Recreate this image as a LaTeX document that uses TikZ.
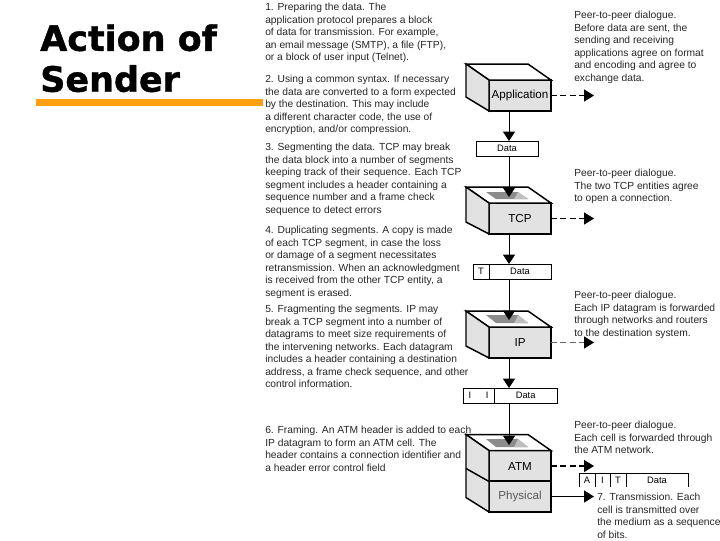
\documentclass[tikz,border=0pt]{standalone}
\usepackage{fontspec}
\setmainfont{Liberation Sans}
\newfontfamily\headfont[FakeBold=1.2]{DejaVu Sans Bold}
\usetikzlibrary{arrows.meta}
\definecolor{barorange}{HTML}{FFA010}
\definecolor{faceGray}{HTML}{E2E2E2}
\begin{document}
\begin{tikzpicture}[x=0.75pt,y=-0.75pt, every node/.style={font=\fontsize{7.7}{9.4}\selectfont}]
  \tikzstyle{note}=[anchor=north west,align=left,inner sep=0pt,text=black!85]
  \tikzstyle{head}=[anchor=north west,align=left,inner sep=0pt,font=\fontsize{26.2}{30.7}\headfont]
  \tikzstyle{front}=[draw,line width=1.1pt,fill=faceGray,minimum width=46.5pt,minimum height=23.2pt,inner sep=0pt,outer sep=0pt,font=\fontsize{8.7}{10}\selectfont]
  \tikzstyle{face}=[draw,line width=1.1pt,line join=miter]
  \tikzstyle{cell}=[draw,line width=0.5pt,anchor=north west,minimum height=11.6pt,inner sep=0pt,outer sep=0pt,font=\fontsize{7}{8}\selectfont]
  \tikzstyle{opencell}=[anchor=north west,minimum height=10.5pt,inner sep=0pt,outer sep=0pt,font=\fontsize{7}{8}\selectfont]
  \tikzstyle{down}=[line width=0.6pt,-{Triangle[length=7pt,width=9pt]}]
  \tikzstyle{peer}=[line width=1.1pt,dash pattern=on 4.5pt off 2.5pt,-{Triangle[length=7.5pt,width=9pt]}]
  \useasboundingbox (0,0) rectangle (720,540);
  % Title
  \node[head] (title) at (40,24) {Action of\\Sender};
  \fill[barorange] (36,99) rectangle (263,106);
  % Left column
  \node[note] (stepA) at (265,3) {1. Preparing the data. The\\application protocol prepares a block\\of data for transmission. For example,\\an email message (SMTP), a file (FTP),\\or a block of user input (Telnet).};
  \node[note] (stepB) at (265,75) {2. Using a common syntax. If necessary\\the data are converted to a form expected\\by the destination. This may include\\a different character code, the use of\\encryption, and/or compression.};
  \node[note] (stepC) at (265,143) {3. Segmenting the data. TCP may break\\the data block into a number of segments\\keeping track of their sequence. Each TCP\\segment includes a header containing a\\sequence number and a frame check\\sequence to detect errors};
  \node[note] (stepD) at (265,226) {4. Duplicating segments. A copy is made\\of each TCP segment, in case the loss\\or damage of a segment necessitates\\retransmission. When an acknowledgment\\is received from the other TCP entity, a\\segment is erased.};
  \node[note] (stepE) at (265,305) {5. Fragmenting the segments. IP may\\break a TCP segment into a number of\\datagrams to meet size requirements of\\the intervening networks. Each datagram\\includes a header containing a destination\\address, a frame check sequence, and other\\control information.};
  \node[note] (stepF) at (265,426) {6. Framing. An ATM header is added to each\\IP datagram to form an ATM cell. The\\header contains a connection identifier and\\a header error control field};
  % Right column
  \node[note] (peerA) at (574,11) {Peer-to-peer dialogue.\\Before data are sent, the\\sending and receiving\\applications agree on format\\and encoding and agree to\\exchange data.};
  \node[note] (peerB) at (574,169) {Peer-to-peer dialogue.\\The two TCP entities agree\\to open a connection.};
  \node[note] (peerC) at (574,291) {Peer-to-peer dialogue.\\Each IP datagram is forwarded\\through networks and routers\\to the destination system.};
  \node[note] (peerD) at (574,421) {Peer-to-peer dialogue.\\Each cell is forwarded through\\the ATM network.};
  \node[note] (stepG) at (597,493) {7. Transmission. Each\\cell is transmitted over\\the medium as a sequence\\of bits.};
  \coordinate (spine) at (509,0);
  % Application block
  \node[front] (app) at (520,95.5) {Application};
  \draw[face,fill=white] (app.north west) -- ++(-23,-16) -- ++(62,0) -- (app.north east) -- cycle;
  \draw[face,fill=faceGray] (app.north west) -- ++(-23,-16) -- ++(0,33) -- (app.south west) -- cycle;
  \node[cell,minimum width=46.5pt] (dataA) at (476,141) {Data};
  % TCP block
  \node[front] (tcp) at (520,218.5) {TCP};
  \draw[face,fill=white] (tcp.north west) -- ++(-23,-16) -- ++(62,0) -- (tcp.north east) -- cycle;
  \draw[face,fill=faceGray] (tcp.north west) -- ++(-23,-16) -- ++(0,35) -- (tcp.south west) -- cycle;
  \fill[black!45] (486,192) -- (518,192) -- (528,199) -- (496,199) -- cycle;
  \fill[black!25] (518,192) -- (528,199) -- (514,199) -- cycle;
  \coordinate (tcpin) at (509,197);
  \node[cell,minimum width=12pt] (segT) at (473,264) {T};
  \node[cell,minimum width=46.5pt] (segD) at (489,264) {Data};
  % IP block
  \node[front] (ip) at (520,342.5) {IP};
  \draw[face,fill=white] (ip.north west) -- ++(-23,-16) -- ++(62,0) -- (ip.north east) -- cycle;
  \draw[face,fill=faceGray] (ip.north west) -- ++(-23,-16) -- ++(0,35) -- (ip.south west) -- cycle;
  \fill[black!45] (486,315) -- (518,315) -- (528,323) -- (496,323) -- cycle;
  \fill[black!25] (518,315) -- (528,323) -- (514,323) -- cycle;
  \coordinate (ipin) at (509,320);
  \node[cell,minimum width=23.2pt] (dgH) at (463,388) {I\hspace{11pt}I};
  \node[cell,minimum width=47.5pt] (dgD) at (494,388) {Data};
  % ATM and Physical block
  \node[front] (atm) at (520,466) {ATM};
  \node[front,text=black!65] (phy) at (520,496.5) {Physical};
  \draw[face,fill=white] (atm.north west) -- ++(-23,-16) -- ++(62,0) -- (atm.north east) -- cycle;
  \draw[face,fill=faceGray] (atm.north west) -- ++(-23,-16) -- ++(0,63) -- (phy.south west) -- cycle;
  \draw[face] (atm.south west) -- ++(-23,-13);
  \fill[black!45] (486,439) -- (518,439) -- (528,447) -- (496,447) -- cycle;
  \fill[black!25] (518,439) -- (528,447) -- (514,447) -- cycle;
  \coordinate (atmin) at (509,445);
  % Cell on the medium
  \node[opencell,minimum width=12pt] (cellA) at (579,473) {A};
  \node[opencell,minimum width=11.2pt] (cellI) at (595,473) {I};
  \node[opencell,minimum width=12pt] (cellT) at (610,473) {T};
  \node[opencell,minimum width=46.5pt] (cellD) at (626,473) {Data};
  \draw[line width=0.5pt] (cellA.south west) -- (cellA.north west) -- (cellD.north east) -- (cellD.south east);
  \draw[line width=0.5pt] (cellI.north west) -- (cellI.south west);
  \draw[line width=0.5pt] (cellT.north west) -- (cellT.south west);
  \draw[line width=0.5pt] (cellD.north west) -- (cellD.south west);
  % Arrows down the stack
  \draw[down] (app.south -| spine) -- (dataA.north -| spine);
  \draw[down] (dataA.south -| spine) -- (tcpin);
  \draw[down] (tcp.south -| spine) -- (segD.north -| spine);
  \draw[down] (segD.south -| spine) -- (ipin);
  \draw[down] (ip.south -| spine) -- (dgD.north -| spine);
  \draw[down] (dgD.south -| spine) -- (atmin);
  % Arrows to the peer
  \coordinate (farA) at (594,95.5);
  \coordinate (farB) at (594,218.5);
  \coordinate (farC) at (594,342.5);
  \coordinate (farD) at (594,466);
  \coordinate (farE) at (594,496.5);
  \draw[peer] (app.east) -- (farA);
  \draw[peer] (tcp.east) -- (farB);
  \draw[peer,black!60,-{Triangle[length=7.5pt,width=9pt,black]}] (ip.east) -- (farC);
  \draw[peer] (atm.east) -- (farD);
  \draw[line width=1.1pt,-{Triangle[length=7.5pt,width=9pt]}] (phy.east) -- (farE);
\end{tikzpicture}
\end{document}
